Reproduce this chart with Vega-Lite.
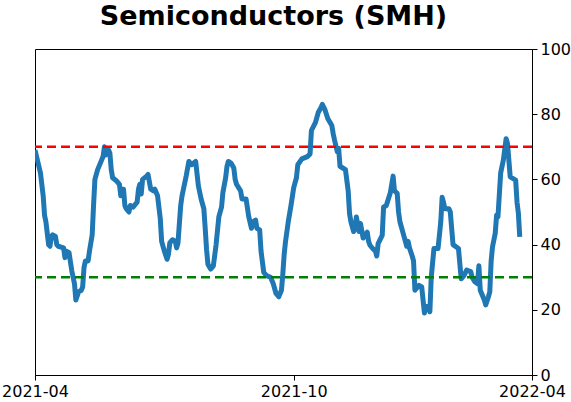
{
  "$schema": "https://vega.github.io/schema/vega-lite/v6.json",
  "width": 497,
  "height": 326,
  "autosize": {"type": "none"},
  "padding": {"left": 35, "top": 49, "right": 39, "bottom": 27},
  "background": "white",
  "config": {
    "view": {"stroke": "black", "strokeWidth": 1},
    "font": "DejaVu Sans"
  },
  "title": {
    "text": "Semiconductors (SMH)",
    "font": "DejaVu Sans",
    "fontSize": 27,
    "fontWeight": "bold",
    "color": "black",
    "anchor": "middle",
    "offset": 10,
    "dx": -10
  },
  "datasets": {
    "series": [
      {"date": "2021-04-01", "value": 69},
      {"date": "2021-04-05", "value": 62},
      {"date": "2021-04-07", "value": 55},
      {"date": "2021-04-08", "value": 49},
      {"date": "2021-04-09", "value": 47},
      {"date": "2021-04-11", "value": 40},
      {"date": "2021-04-12", "value": 39.5},
      {"date": "2021-04-13", "value": 42.5},
      {"date": "2021-04-14", "value": 43},
      {"date": "2021-04-16", "value": 42.5},
      {"date": "2021-04-17", "value": 40},
      {"date": "2021-04-18", "value": 39.5},
      {"date": "2021-04-22", "value": 39},
      {"date": "2021-04-23", "value": 36},
      {"date": "2021-04-24", "value": 38},
      {"date": "2021-04-26", "value": 37.5},
      {"date": "2021-04-28", "value": 32},
      {"date": "2021-04-30", "value": 28},
      {"date": "2021-05-01", "value": 23},
      {"date": "2021-05-03", "value": 25.5},
      {"date": "2021-05-05", "value": 26},
      {"date": "2021-05-06", "value": 27},
      {"date": "2021-05-07", "value": 33},
      {"date": "2021-05-08", "value": 35},
      {"date": "2021-05-10", "value": 35},
      {"date": "2021-05-11", "value": 38},
      {"date": "2021-05-13", "value": 43},
      {"date": "2021-05-14", "value": 52},
      {"date": "2021-05-15", "value": 60},
      {"date": "2021-05-17", "value": 63},
      {"date": "2021-05-19", "value": 65},
      {"date": "2021-05-21", "value": 67},
      {"date": "2021-05-22", "value": 70},
      {"date": "2021-05-23", "value": 67.5},
      {"date": "2021-05-24", "value": 68},
      {"date": "2021-05-25", "value": 69},
      {"date": "2021-05-26", "value": 68},
      {"date": "2021-05-27", "value": 63},
      {"date": "2021-05-28", "value": 60.5},
      {"date": "2021-05-31", "value": 59.5},
      {"date": "2021-06-02", "value": 58.5},
      {"date": "2021-06-03", "value": 55},
      {"date": "2021-06-04", "value": 57},
      {"date": "2021-06-05", "value": 57},
      {"date": "2021-06-06", "value": 52},
      {"date": "2021-06-07", "value": 51},
      {"date": "2021-06-09", "value": 50},
      {"date": "2021-06-10", "value": 52},
      {"date": "2021-06-12", "value": 51.5},
      {"date": "2021-06-15", "value": 53},
      {"date": "2021-06-16", "value": 57},
      {"date": "2021-06-17", "value": 58.5},
      {"date": "2021-06-18", "value": 55.5},
      {"date": "2021-06-19", "value": 60},
      {"date": "2021-06-22", "value": 61},
      {"date": "2021-06-23", "value": 61.5},
      {"date": "2021-06-25", "value": 57},
      {"date": "2021-06-27", "value": 56.5},
      {"date": "2021-06-28", "value": 57},
      {"date": "2021-06-30", "value": 55},
      {"date": "2021-07-02", "value": 48},
      {"date": "2021-07-03", "value": 41},
      {"date": "2021-07-05", "value": 38},
      {"date": "2021-07-07", "value": 35.5},
      {"date": "2021-07-08", "value": 37},
      {"date": "2021-07-09", "value": 40.5},
      {"date": "2021-07-11", "value": 41.5},
      {"date": "2021-07-13", "value": 41},
      {"date": "2021-07-14", "value": 39},
      {"date": "2021-07-15", "value": 40.5},
      {"date": "2021-07-17", "value": 52},
      {"date": "2021-07-18", "value": 55},
      {"date": "2021-07-19", "value": 57},
      {"date": "2021-07-21", "value": 61},
      {"date": "2021-07-23", "value": 65.5},
      {"date": "2021-07-25", "value": 64.5},
      {"date": "2021-07-28", "value": 65.5},
      {"date": "2021-07-30", "value": 58},
      {"date": "2021-08-01", "value": 54},
      {"date": "2021-08-03", "value": 51},
      {"date": "2021-08-04", "value": 45},
      {"date": "2021-08-05", "value": 38.5},
      {"date": "2021-08-06", "value": 34},
      {"date": "2021-08-08", "value": 32.5},
      {"date": "2021-08-10", "value": 33.5},
      {"date": "2021-08-12", "value": 40},
      {"date": "2021-08-14", "value": 48.5},
      {"date": "2021-08-16", "value": 51.5},
      {"date": "2021-08-17", "value": 56},
      {"date": "2021-08-19", "value": 60.5},
      {"date": "2021-08-20", "value": 64},
      {"date": "2021-08-21", "value": 65.5},
      {"date": "2021-08-23", "value": 65},
      {"date": "2021-08-25", "value": 63.5},
      {"date": "2021-08-26", "value": 60},
      {"date": "2021-08-27", "value": 58.5},
      {"date": "2021-08-30", "value": 56.5},
      {"date": "2021-08-31", "value": 54},
      {"date": "2021-09-03", "value": 54},
      {"date": "2021-09-05", "value": 48.5},
      {"date": "2021-09-07", "value": 45},
      {"date": "2021-09-08", "value": 47},
      {"date": "2021-09-10", "value": 47.5},
      {"date": "2021-09-11", "value": 45},
      {"date": "2021-09-13", "value": 44.5},
      {"date": "2021-09-14", "value": 38},
      {"date": "2021-09-16", "value": 31.5},
      {"date": "2021-09-18", "value": 30.5},
      {"date": "2021-09-21", "value": 30},
      {"date": "2021-09-23", "value": 28},
      {"date": "2021-09-25", "value": 25},
      {"date": "2021-09-27", "value": 24},
      {"date": "2021-09-29", "value": 26},
      {"date": "2021-09-30", "value": 31},
      {"date": "2021-10-01", "value": 37},
      {"date": "2021-10-02", "value": 41},
      {"date": "2021-10-04", "value": 47},
      {"date": "2021-10-06", "value": 52},
      {"date": "2021-10-08", "value": 57.5},
      {"date": "2021-10-10", "value": 60.5},
      {"date": "2021-10-11", "value": 64.5},
      {"date": "2021-10-14", "value": 66.3},
      {"date": "2021-10-18", "value": 67},
      {"date": "2021-10-20", "value": 67.8},
      {"date": "2021-10-21", "value": 75},
      {"date": "2021-10-24", "value": 77.5},
      {"date": "2021-10-26", "value": 80.5},
      {"date": "2021-10-28", "value": 82},
      {"date": "2021-10-29", "value": 83},
      {"date": "2021-10-31", "value": 81.3},
      {"date": "2021-11-02", "value": 78.7},
      {"date": "2021-11-05", "value": 76.5},
      {"date": "2021-11-06", "value": 74},
      {"date": "2021-11-07", "value": 72},
      {"date": "2021-11-09", "value": 68.5},
      {"date": "2021-11-10", "value": 69.5},
      {"date": "2021-11-11", "value": 64},
      {"date": "2021-11-13", "value": 63.5},
      {"date": "2021-11-15", "value": 63},
      {"date": "2021-11-17", "value": 56.5},
      {"date": "2021-11-18", "value": 49.5},
      {"date": "2021-11-19", "value": 47},
      {"date": "2021-11-21", "value": 44},
      {"date": "2021-11-22", "value": 45},
      {"date": "2021-11-23", "value": 48.5},
      {"date": "2021-11-25", "value": 44},
      {"date": "2021-11-26", "value": 46.5},
      {"date": "2021-11-28", "value": 42},
      {"date": "2021-12-01", "value": 43.8},
      {"date": "2021-12-02", "value": 41},
      {"date": "2021-12-03", "value": 39.8},
      {"date": "2021-12-05", "value": 38.8},
      {"date": "2021-12-07", "value": 38},
      {"date": "2021-12-08", "value": 36.5},
      {"date": "2021-12-09", "value": 40.3},
      {"date": "2021-12-12", "value": 42.8},
      {"date": "2021-12-13", "value": 51.5},
      {"date": "2021-12-15", "value": 52},
      {"date": "2021-12-18", "value": 56},
      {"date": "2021-12-20", "value": 61},
      {"date": "2021-12-21", "value": 56.5},
      {"date": "2021-12-23", "value": 55.7},
      {"date": "2021-12-24", "value": 50},
      {"date": "2021-12-25", "value": 47},
      {"date": "2021-12-28", "value": 42.5},
      {"date": "2021-12-30", "value": 39.5},
      {"date": "2021-12-31", "value": 41},
      {"date": "2022-01-01", "value": 39},
      {"date": "2022-01-03", "value": 36.5},
      {"date": "2022-01-04", "value": 35},
      {"date": "2022-01-05", "value": 26},
      {"date": "2022-01-08", "value": 27.5},
      {"date": "2022-01-10", "value": 27},
      {"date": "2022-01-11", "value": 23},
      {"date": "2022-01-12", "value": 19},
      {"date": "2022-01-13", "value": 21},
      {"date": "2022-01-15", "value": 21},
      {"date": "2022-01-16", "value": 19.4},
      {"date": "2022-01-17", "value": 30},
      {"date": "2022-01-19", "value": 38.8},
      {"date": "2022-01-22", "value": 38.8},
      {"date": "2022-01-24", "value": 47},
      {"date": "2022-01-25", "value": 54.5},
      {"date": "2022-01-26", "value": 53},
      {"date": "2022-01-27", "value": 51},
      {"date": "2022-01-30", "value": 51},
      {"date": "2022-01-31", "value": 50},
      {"date": "2022-02-01", "value": 45},
      {"date": "2022-02-02", "value": 40},
      {"date": "2022-02-06", "value": 38.8},
      {"date": "2022-02-08", "value": 29.5},
      {"date": "2022-02-10", "value": 30.5},
      {"date": "2022-02-12", "value": 32.2},
      {"date": "2022-02-15", "value": 31.7},
      {"date": "2022-02-16", "value": 30},
      {"date": "2022-02-18", "value": 28.6},
      {"date": "2022-02-20", "value": 28},
      {"date": "2022-02-21", "value": 33.5},
      {"date": "2022-02-22", "value": 26},
      {"date": "2022-02-25", "value": 23},
      {"date": "2022-02-26", "value": 21.5},
      {"date": "2022-02-28", "value": 24},
      {"date": "2022-03-01", "value": 25.5},
      {"date": "2022-03-02", "value": 35},
      {"date": "2022-03-03", "value": 39.3},
      {"date": "2022-03-05", "value": 43.5},
      {"date": "2022-03-06", "value": 49},
      {"date": "2022-03-07", "value": 48.5},
      {"date": "2022-03-09", "value": 62},
      {"date": "2022-03-11", "value": 66},
      {"date": "2022-03-13", "value": 72.5},
      {"date": "2022-03-14", "value": 71},
      {"date": "2022-03-16", "value": 60.8},
      {"date": "2022-03-20", "value": 59.8},
      {"date": "2022-03-21", "value": 53},
      {"date": "2022-03-22", "value": 49.6},
      {"date": "2022-03-23", "value": 42.4}
    ],
    "upper": [{"level": 70}],
    "lower": [{"level": 30}]
  },
  "layer": [
    {
      "data": {"name": "series"},
      "mark": {"type": "line", "color": "#1f77b4", "strokeWidth": 5, "strokeJoin": "round", "strokeCap": "butt", "clip": true},
      "encoding": {
        "x": {
          "field": "date",
          "type": "temporal",
          "scale": {
            "type": "utc",
            "domain": [
              {"year": 2021, "month": 4, "date": 1, "utc": true},
              {"year": 2022, "month": 4, "date": 1, "utc": true}
            ],
            "nice": false
          },
          "axis": {
            "title": null,
            "values": [
              {"year": 2021, "month": 4, "date": 1, "utc": true},
              {"year": 2021, "month": 10, "date": 8, "utc": true},
              {"year": 2022, "month": 4, "date": 1, "utc": true}
            ],
            "format": "%Y-%m",
            "grid": false,
            "domainColor": "black",
            "domainWidth": 1,
            "tickColor": "black",
            "tickSize": 5,
            "tickWidth": 1,
            "labelFont": "DejaVu Sans",
            "labelFontSize": 16,
            "labelColor": "black",
            "labelPadding": 3,
            "labelFlush": false,
            "labelOverlap": false,
            "labelBound": false
          }
        },
        "y": {
          "field": "value",
          "type": "quantitative",
          "scale": {"domain": [0, 100], "nice": false},
          "axis": {
            "title": null,
            "orient": "right",
            "values": [0, 20, 40, 60, 80, 100],
            "grid": false,
            "domainColor": "black",
            "domainWidth": 1,
            "tickColor": "black",
            "tickSize": 5,
            "tickWidth": 1,
            "labelFont": "DejaVu Sans",
            "labelFontSize": 16,
            "labelColor": "black",
            "labelPadding": 3,
            "labelFlush": false,
            "labelOverlap": false,
            "labelBound": false
          }
        }
      }
    },
    {
      "data": {"name": "upper"},
      "mark": {"type": "rule", "color": "#ff0000", "strokeWidth": 2.5, "strokeDash": [9, 5]},
      "encoding": {"y": {"field": "level", "type": "quantitative"}}
    },
    {
      "data": {"name": "lower"},
      "mark": {"type": "rule", "color": "#008000", "strokeWidth": 2.5, "strokeDash": [9, 5]},
      "encoding": {"y": {"field": "level", "type": "quantitative"}}
    }
  ]
}
